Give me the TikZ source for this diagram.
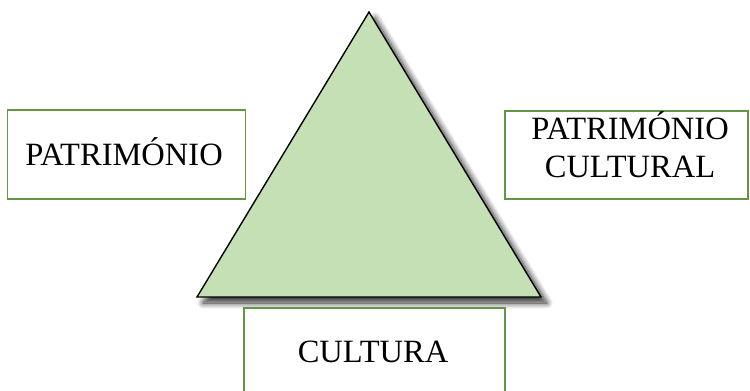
\documentclass[tikz,border=0pt]{standalone}
\usepackage{fontspec}
\setmainfont{Liberation Serif}
\usetikzlibrary{shadows.blur}
\definecolor{boxgreen}{RGB}{100,150,70}
\definecolor{trifill}{RGB}{197,224,180}
\begin{document}
\begin{tikzpicture}[x=1pt,y={(0,-1pt)},
  labelbox/.style={draw=boxgreen, line width=1.2pt, fill=white, inner sep=0pt},
  labeltext/.style={font=\fontsize{32.5}{37}\selectfont, inner sep=0pt, anchor=base}]
\useasboundingbox (0,0) rectangle (750,391);
% triangle
\draw[fill=trifill, line width=1.4pt, line join=miter,
  blur shadow={shadow xshift=6pt, shadow yshift=-6pt, shadow blur steps=14, shadow blur radius=6pt, shadow opacity=80}]
  (369,12) coordinate (apex) -- (541,297) coordinate (br) -- (197,297) coordinate (bl) -- cycle;
% boxes
\node[labelbox, minimum width=238pt, minimum height=89pt] (patr) at (126.5,154.5) {};
\node[labeltext] (patrtext) at (124,165) {PATRIMÓNIO};
\node[labelbox, minimum width=243pt, minimum height=88pt] (patrcult) at (626.5,155) {};
\node[labeltext] (patrcult1) at (630,139) {PATRIMÓNIO};
\node[labeltext] (patrcult2) at (630,177) {CULTURAL};
\node[labelbox, minimum width=261pt, minimum height=100pt] (cult) at (374.5,358) {};
\node[labeltext] (culttext) at (373,362) {CULTURA};
\end{tikzpicture}
\end{document}
